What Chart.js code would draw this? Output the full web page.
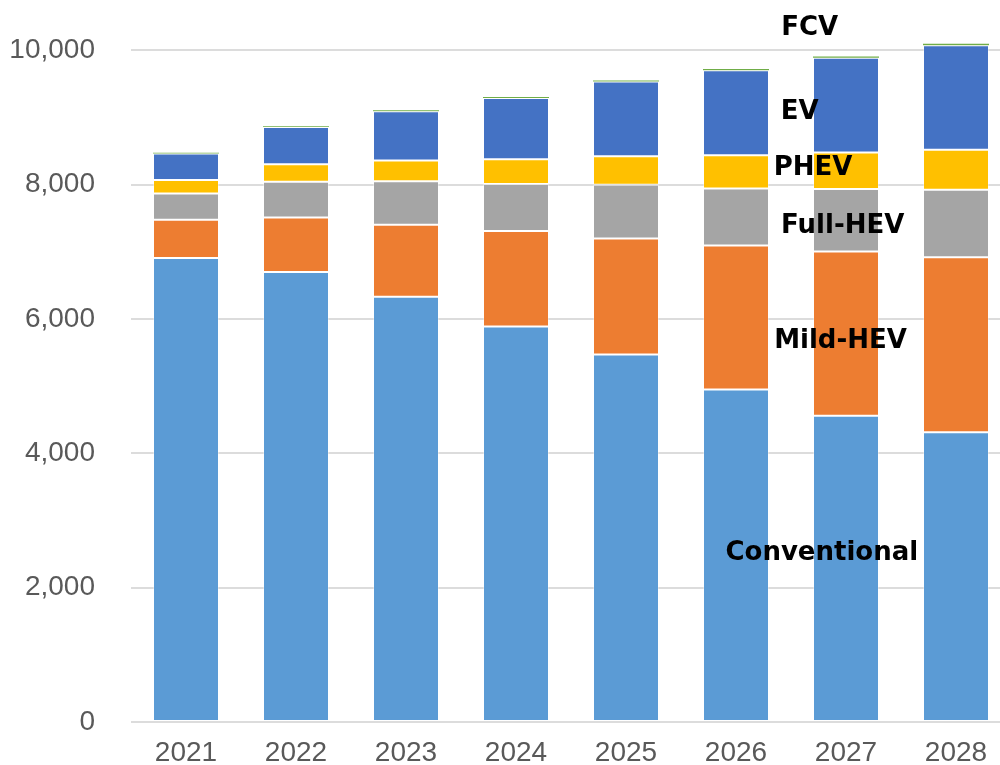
<!DOCTYPE html>
<html>
<head>
<meta charset="utf-8">
<script src="https://cdn.jsdelivr.net/npm/chart.js@4/dist/chart.umd.min.js"></script>
<style>
  html, body { margin: 0; padding: 0; background: #fff; overflow: hidden; }
  #wrap { width: 1011px; height: 765px; }
</style>
</head>
<body>
<div id="wrap"><canvas id="powertrainChart" width="1011" height="765"></canvas></div>
<script>
// categories and series
const years = ['2021', '2022', '2023', '2024', '2025', '2026', '2027', '2028'];
const conventional = [6910, 6700, 6330, 5890, 5470, 4950, 4560, 4315];
const mildHev = [570, 810, 1075, 1420, 1730, 2145, 2445, 2605];
const fullHev = [390, 535, 645, 700, 800, 850, 930, 1005];
const phev = [200, 260, 310, 370, 425, 495, 545, 595];
const ev = [395, 555, 735, 910, 1110, 1265, 1410, 1555];
const fcv = [12, 12, 15, 15, 18, 18, 20, 22];
const yTicks = [0, 2000, 4000, 6000, 8000, 10000];

// series labels placed next to the last bars (category index, value)
const seriesNotes = [
    { text: 'FCV', x: 5.67, y: 10330 },
    { text: 'EV', x: 5.58, y: 9080 },
    { text: 'PHEV', x: 5.70, y: 8240 },
    { text: 'Full-HEV', x: 5.97, y: 7380 },
    { text: 'Mild-HEV', x: 5.95, y: 5670 },
    { text: 'Conventional', x: 5.78, y: 2510 }
];

const notesPlugin = {
    id: 'seriesNotes',
    afterDatasetsDraw(chart) {
        const { ctx, scales: { x, y } } = chart;
        ctx.save();
        ctx.font = 'bold 26px "DejaVu Sans"';
        ctx.fillStyle = '#000';
        ctx.textAlign = 'center';
        ctx.textBaseline = 'middle';
        seriesNotes.forEach(n => {
            ctx.fillText(n.text, x.getPixelForValue(n.x), y.getPixelForValue(n.y));
        });
        ctx.restore();
    }
};

const seg = (label, data, color) => ({
    label,
    data,
    backgroundColor: color,
    borderColor: 'rgba(255,255,255,0.35)',
    borderWidth: 1,
    borderSkipped: false,
    barPercentage: 0.6,
    categoryPercentage: 1
});

new Chart(document.getElementById('powertrainChart'), {
    type: 'bar',
    data: {
        labels: years,
        datasets: [
            seg('Conventional', conventional, '#5B9BD5'),
            seg('Mild-HEV', mildHev, '#ED7D31'),
            seg('Full-HEV', fullHev, '#A5A5A5'),
            seg('PHEV', phev, '#FFC000'),
            seg('EV', ev, '#4472C4'),
            { ...seg('FCV', fcv, '#70AD47'), borderWidth: 0 }
        ]
    },
    options: {
        responsive: false,
        animation: false,
        layout: { padding: 0 },
        plugins: {
            legend: { display: false },
            tooltip: { enabled: false }
        },
        scales: {
            x: {
                stacked: true,
                grid: { display: false, drawTicks: true, tickLength: 14, tickColor: 'transparent' },
                border: { display: false },
                ticks: {
                    color: '#595959',
                    font: { family: '"Liberation Sans", Arial', size: 28 },
                    padding: 0
                },
                afterFit: scale => { scale.height = 43; }
            },
            y: {
                stacked: true,
                min: 0,
                max: 10500,
                afterBuildTicks: scale => {
                    scale.ticks = yTicks.map(v => ({ value: v }));
                },
                grid: { color: '#dcdcdc', lineWidth: 2, drawTicks: true, tickLength: 36, tickColor: 'transparent' },
                border: { display: false },
                ticks: {
                    color: '#595959',
                    font: { family: '"Liberation Sans", Arial', size: 28 },
                    padding: 0,
                    callback: v => v.toLocaleString('en-US')
                },
                afterFit: scale => { scale.width = 131; }
            }
        }
    },
    plugins: [notesPlugin]
});
</script>
</body>
</html>
